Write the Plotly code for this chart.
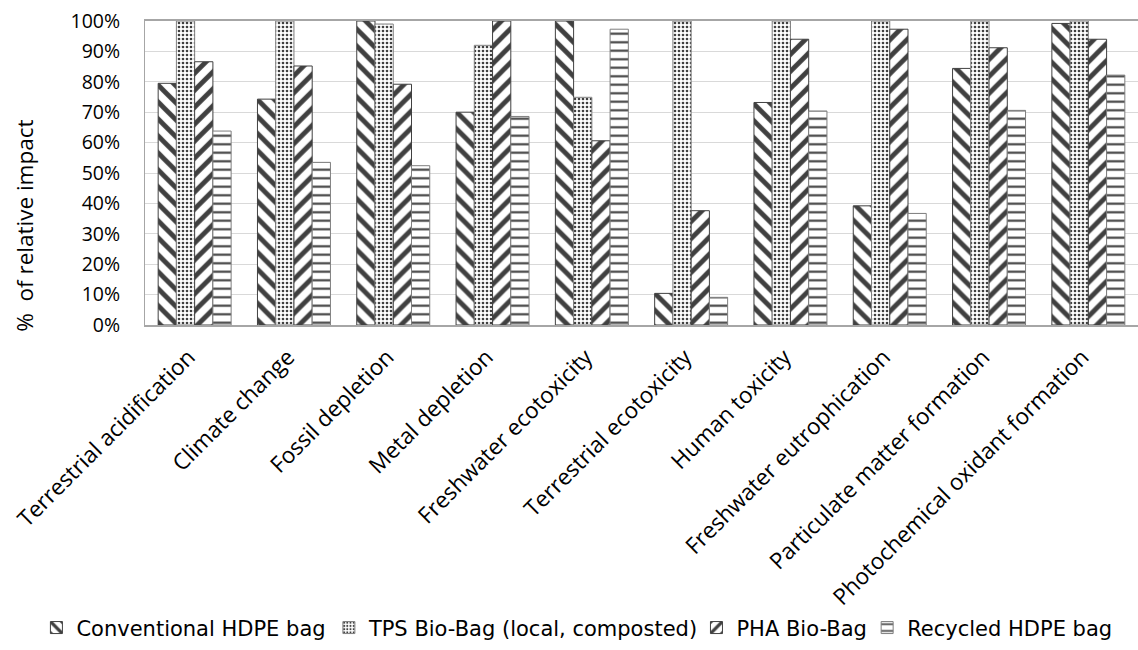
import plotly.graph_objects as go

categories = ["Terrestrial acidification", "Climate change", "Fossil depletion", "Metal depletion",
              "Freshwater ecotoxicity", "Terrestrial ecotoxicity", "Human toxicity",
              "Freshwater eutrophication", "Particulate matter formation", "Photochemical oxidant formation"]

conventional = [0.795, 0.743, 1.00, 0.700, 1.00, 0.104, 0.732, 0.392, 0.844, 0.992]
tps = [1.00, 1.00, 0.990, 0.920, 0.749, 1.00, 1.00, 1.00, 1.00, 1.00]
pha = [0.866, 0.852, 0.792, 1.00, 0.606, 0.376, 0.940, 0.973, 0.912, 0.940]
recycled = [0.638, 0.535, 0.524, 0.686, 0.973, 0.091, 0.704, 0.367, 0.706, 0.822]

series_names = ["Conventional HDPE bag", "TPS Bio-Bag (local, composted)", "PHA Bio-Bag", "Recycled HDPE bag"]
series_values = [conventional, tps, pha, recycled]
shapes = ["\\", ".", "/", "-"]
sizes = [12, 4, 12, 8.5]
solid = [0.4, 0.35, 0.4, 0.25]
outline = ["#404040", "#7f7f7f", "#404040", "#7f7f7f"]
legend_ids = ["legend", "legend2", "legend3", "legend4"]
legend_x = [0.032, 0.289, 0.612, 0.762]

y_title = "%  of relative impact"

fig = go.Figure()
for name, vals, sh, sz, so, oc, lg in zip(series_names, series_values, shapes, sizes, solid, outline, legend_ids):
    fig.add_trace(go.Bar(
        x=categories, y=vals, name=name, legend=lg,
        marker=dict(color="white", line=dict(color=oc, width=1),
                    pattern=dict(shape=sh, size=sz, solidity=so, fgcolor="#404040",
                                 bgcolor="white", fillmode="replace")),
    ))

legend_style = dict(orientation="h", xref="container", yref="container", xanchor="left",
                    y=0.034, yanchor="middle",
                    font=dict(family="DejaVu Sans", size=21, color="black"), itemwidth=30)

fig.update_layout(
    width=1138, height=650,
    margin=dict(l=145, r=0, t=21, b=325, autoexpand=False),
    barmode="group", bargap=0.265, bargroupgap=0,
    plot_bgcolor="white", paper_bgcolor="white",
    font=dict(family="Open Sans", size=18, color="black"),
    showlegend=True,
    annotations=[dict(text=y_title, textangle=-90, xref="paper", yref="paper",
                      x=-0.121, y=0.326, xanchor="center", yanchor="middle", showarrow=False,
                      font=dict(family="Open Sans", size=22.5, color="black"))],
)
for lg, lx in zip(legend_ids, legend_x):
    fig.update_layout({lg: dict(legend_style, x=lx)})

fig.update_xaxes(tickangle=-45, showline=True, linecolor="#a6a6a6", linewidth=2, mirror=True,
                 ticks="", tickfont=dict(size=22.5), ticklabelstandoff=8, ticklabelshift=-6)
fig.update_yaxes(range=[0, 1], dtick=0.1, tickformat=".0%", showgrid=True, gridcolor="#d9d9d9",
                 gridwidth=1, showline=True, linecolor="#a6a6a6", linewidth=1, mirror=True,
                 ticks="", zeroline=False, tickfont=dict(size=19.5), ticklabelstandoff=20)

fig.write_html("out.html")
